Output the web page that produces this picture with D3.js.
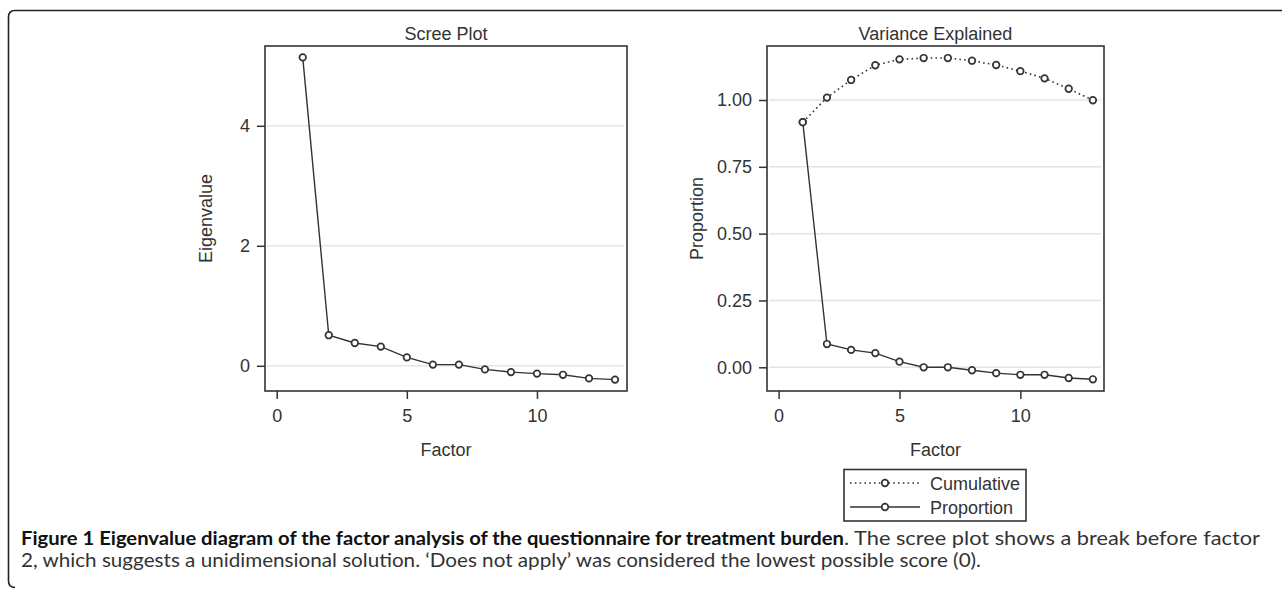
<!DOCTYPE html>
<html>
<head>
<meta charset="utf-8">
<script src="https://cdn.jsdelivr.net/npm/d3@7"></script>
<style>
  body { margin: 0; background: #fff; }
  svg text { font-family: "Liberation Sans", Arial, sans-serif; fill: #333; }
  .cap text { font-family: Lato, "Open Sans", sans-serif; }
</style>
</head>
<body>
<svg id="fig" width="1282" height="590"></svg>
<script>
// values
var factors = [1, 2, 3, 4, 5, 6, 7, 8, 9, 10, 11, 12, 13]
var eigenvalues = [5.14, 0.51, 0.38, 0.32, 0.14, 0.02, 0.02, -0.06, -0.105, -0.13, -0.15, -0.21, -0.23]
var cumulative = [0.917, 1.009, 1.075, 1.13, 1.152, 1.157, 1.157, 1.147, 1.131, 1.108, 1.081, 1.042, 0.999]
var proportion = [0.917, 0.087, 0.065, 0.053, 0.021, 0, 0, -0.011, -0.022, -0.028, -0.028, -0.040, -0.045]
var xTicks = [0, 5, 10]
var eigenTicks = [0, 2, 4]
var propTicks = [0, 0.25, 0.5, 0.75, 1]
var legendItems = ['Cumulative', 'Proportion']

var svg = d3.select('#fig')

// outer frame: top rule and left rule with rounded corners
svg.append('path')
    .attr('d', 'M1282,10.5 L15,10.5 Q8.5,10.5 8.5,17 L8.5,581 Q8.5,587.5 15,587.5')
    .attr('fill', 'none')
    .attr('stroke', '#222')
    .attr('stroke-width', 1.6)

function drawPanel(opts){
    var g = svg.append('g')
    var x = d3.scaleLinear().domain(opts.xDomain).range([opts.left, opts.right])
    var y = d3.scaleLinear().domain(opts.yDomain).range([opts.bottom, opts.top])

    // grid
    g.selectAll('.grid').data(opts.yTicks).enter().append('line')
        .attr('x1', opts.left + 2).attr('x2', opts.right - 3)
        .attr('y1', function(d){ return y(d) }).attr('y2', function(d){ return y(d) })
        .attr('stroke', '#e4e4e4').attr('stroke-width', 1.5)

    // axes
    var xAxis = d3.axisBottom(x).tickValues(xTicks).tickSize(8).tickSizeOuter(0).tickPadding(10)
    var yAxis = d3.axisLeft(y).tickValues(opts.yTicks).tickSize(8).tickSizeOuter(0).tickPadding(7)
        .tickFormat(opts.fmt)
    var gx = g.append('g').attr('transform', 'translate(0,' + opts.bottom + ')').call(xAxis)
    var gy = g.append('g').attr('transform', 'translate(' + opts.left + ',0)').call(yAxis)
    ;[gx, gy].forEach(function(a){
        a.select('.domain').remove()
        a.selectAll('line').attr('stroke', '#333').attr('stroke-width', 1.5)
        a.selectAll('text').attr('font-size', 18).attr('fill', '#333')
            .style('font-family', '"Liberation Sans", Arial, sans-serif')
    })

    // box
    g.append('rect')
        .attr('x', opts.left).attr('y', opts.top)
        .attr('width', opts.right - opts.left).attr('height', opts.bottom - opts.top)
        .attr('fill', 'none').attr('stroke', '#333').attr('stroke-width', 1.6)

    // titles
    g.append('text').attr('x', (opts.left + opts.right) / 2).attr('y', 40)
        .attr('text-anchor', 'middle').attr('font-size', 18).text(opts.title)
    g.append('text').attr('x', (opts.left + opts.right) / 2).attr('y', 456)
        .attr('text-anchor', 'middle').attr('font-size', 18).text('Factor')
    g.append('text')
        .attr('transform', 'translate(' + opts.yLabelX + ',' + ((opts.top + opts.bottom) / 2) + ') rotate(-90)')
        .attr('text-anchor', 'middle').attr('font-size', 18).text(opts.yLabel)

    opts.series.forEach(function(s){
        var pts = factors.map(function(f, i){ return [x(f), y(s.values[i])] })
        g.append('path')
            .attr('d', d3.line()(pts))
            .attr('fill', 'none').attr('stroke', '#333')
            .attr('stroke-width', s.dash ? 1.6 : 1.4)
            .attr('stroke-dasharray', s.dash ? '1.6,3.2' : null)
        g.selectAll(null).data(pts).enter().append('circle')
            .attr('cx', function(d){ return d[0] }).attr('cy', function(d){ return d[1] })
            .attr('r', 3.3).attr('fill', '#fff').attr('stroke', '#333').attr('stroke-width', 1.7)
    })
}

drawPanel({
    left: 265, right: 627, top: 46, bottom: 391,
    xDomain: [-0.45, 13.46], yDomain: [-0.42, 5.33],
    yTicks: eigenTicks, fmt: d3.format('d'),
    title: 'Scree Plot', yLabel: 'Eigenvalue', yLabelX: 212,
    series: [{ values: eigenvalues, dash: false }]
})

drawPanel({
    left: 767, right: 1104, top: 46, bottom: 391,
    xDomain: [-0.48, 13.46], yDomain: [-0.0887, 1.202],
    yTicks: propTicks, fmt: d3.format('.2f'),
    title: 'Variance Explained', yLabel: 'Proportion', yLabelX: 703,
    series: [{ values: cumulative, dash: true }, { values: proportion, dash: false }]
})

// legend
var lg = svg.append('g')
lg.append('rect').attr('x', 844).attr('y', 469.5).attr('width', 182).attr('height', 51.5)
    .attr('fill', '#fff').attr('stroke', '#333').attr('stroke-width', 1.6)
var ly = d3.scalePoint().domain(legendItems).range([483, 507])
legendItems.forEach(function(name, i){
    var yy = ly(name)
    lg.append('line').attr('x1', 850).attr('x2', 920).attr('y1', yy).attr('y2', yy)
        .attr('stroke', '#333').attr('stroke-width', i === 0 ? 1.6 : 1.4)
        .attr('stroke-dasharray', i === 0 ? '1.6,3.2' : null)
    lg.append('circle').attr('cx', 885).attr('cy', yy).attr('r', 3.3)
        .attr('fill', '#fff').attr('stroke', '#333').attr('stroke-width', 1.7)
    lg.append('text').attr('x', 930).attr('y', yy + 6.5).attr('font-size', 18).text(name)
})

// caption
var cap = svg.append('g').attr('class', 'cap')
cap.append('text').attr('x', 21).attr('y', 545).attr('font-size', 19)
    .attr('font-weight', 'bold').style('fill', '#111')
    .attr('textLength', 823).attr('lengthAdjust', 'spacingAndGlyphs')
    .text('Figure 1 Eigenvalue diagram of the factor analysis of the questionnaire for treatment burden')
cap.append('text').attr('x', 844).attr('y', 545).attr('font-size', 19)
    .attr('textLength', 416).attr('lengthAdjust', 'spacingAndGlyphs')
    .text('. The scree plot shows a break before factor')
cap.append('text').attr('x', 21).attr('y', 567).attr('font-size', 19)
    .attr('textLength', 960).attr('lengthAdjust', 'spacingAndGlyphs')
    .text('2, which suggests a unidimensional solution. \u2018Does not apply\u2019 was considered the lowest possible score (0).')
</script>
</body>
</html>
